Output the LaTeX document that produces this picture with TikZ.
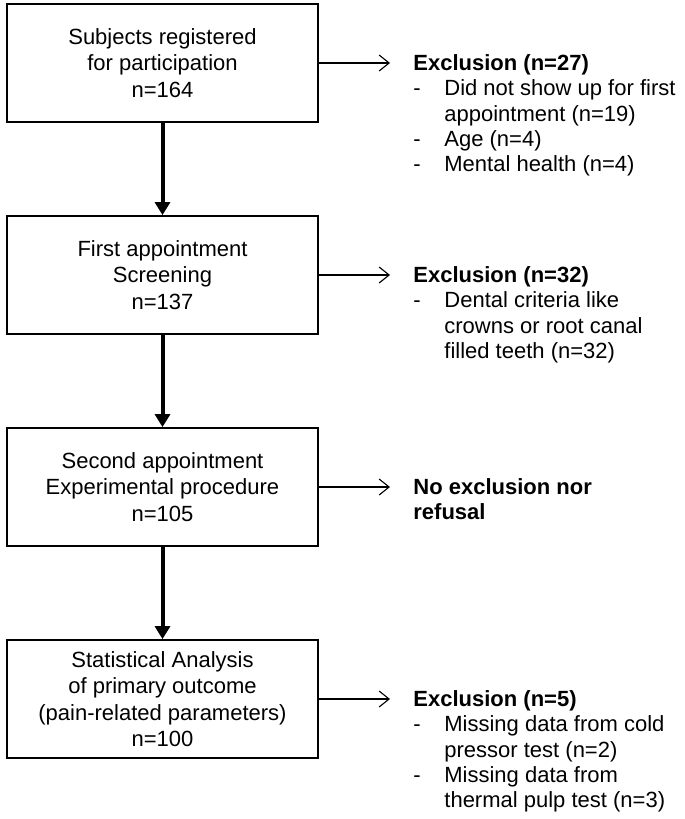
\documentclass[tikz,border=0pt]{standalone}
\usepackage{fontspec}
\setmainfont{Liberation Sans}
\usetikzlibrary{arrows.meta}
\newcommand{\exitem}{\makebox[15.5pt][l]{-}}
\newcommand{\exind}{\hspace*{15.5pt}}
\begin{document}
\begin{tikzpicture}[x=0.5pt,y=-0.5pt,
  stage/.style={draw, line width=0.9pt, minimum width=155.5pt, minimum height=59pt,
    align=center, inner sep=0pt, font=\fontsize{11pt}{13.2pt}\selectfont},
  flow/.style={line width=2pt, -{Triangle[length=6.5pt,width=7.5pt]}},
  side/.style={line width=0.55pt, -{Straight Barb[length=5pt,width=8pt]}},
  note/.style={anchor=north west, align=left, inner sep=0pt,
    font=\fontsize{11pt}{12.7pt}\selectfont}]
\useasboundingbox (0,0) rectangle (685,819);

\node[stage] (s1) at (162.5,63) {Subjects registered\\for participation\\n=164};
\node[stage] (s2) at (162.5,275) {First appointment\\Screening\\n=137};
\node[stage] (s3) at (162.5,487) {Second appointment\\Experimental procedure\\n=105};
\node[stage] (s4) at (162.5,699) {Statistical Analysis\\of primary outcome\\(pain-related parameters)\\n=100};

\draw[flow] (s1.south) -- (s2.north);
\draw[flow] (s2.south) -- (s3.north);
\draw[flow] (s3.south) -- (s4.north);

\coordinate (t1) at (390,63);
\coordinate (t2) at (390,275);
\coordinate (t3) at (390,487);
\coordinate (t4) at (390,699);
\draw[side] (s1.east) -- (t1);
\draw[side] (s2.east) -- (t2);
\draw[side] (s3.east) -- (t3);
\draw[side] (s4.east) -- (t4);

\node[note] (e1) at (413,54) {\textbf{Exclusion (n=27)}\\
  \exitem Did not show up for first\\
  \exind appointment (n=19)\\
  \exitem Age (n=4)\\
  \exitem Mental health (n=4)};
\node[note] (e2) at (413,266) {\textbf{Exclusion (n=32)}\\
  \exitem Dental criteria like\\
  \exind crowns or root canal\\
  \exind filled teeth (n=32)};
\node[note] (e3) at (413,478) {\textbf{No exclusion nor}\\
  \textbf{refusal}};
\node[note] (e4) at (413,690) {\textbf{Exclusion (n=5)}\\
  \exitem Missing data from cold\\
  \exind pressor test (n=2)\\
  \exitem Missing data from\\
  \exind thermal pulp test (n=3)};
\end{tikzpicture}
\end{document}
